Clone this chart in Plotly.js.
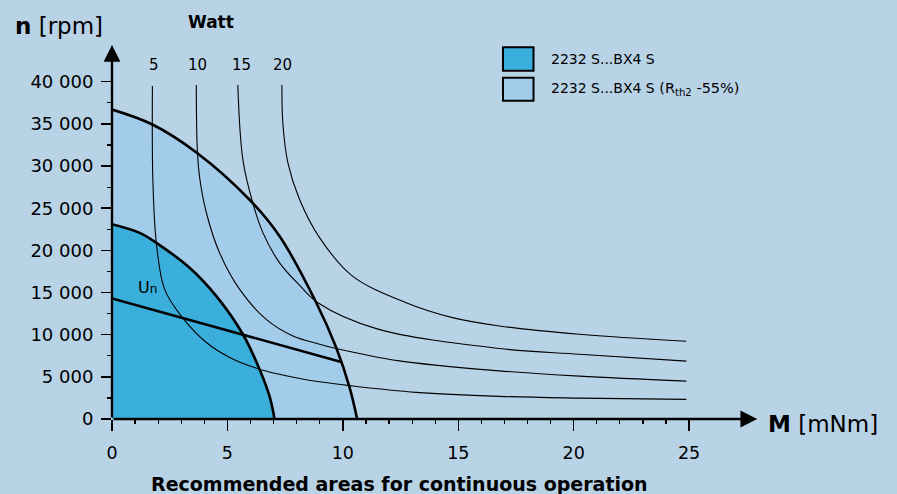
<!DOCTYPE html>
<html>
<head>
<meta charset="utf-8">
<script src="https://cdn.plot.ly/plotly-3.0.1.min.js"></script>
<style>html,body{margin:0;padding:0;background:#b8d3e6;}#chart{width:897px;height:494px;}</style>
</head>
<body>
<div id="chart"></div>
<script>
// Recommended-area boundaries (M in mNm, n in rpm)
const outerM = [0, 1.73, 3.70, 5.96, 7.26, 8.85, 9.71, 10.29, 10.62];
const outerN = [36700, 34950, 31520, 26000, 21670, 13790, 8470, 3750, 0];
const innerM = [0, 1.20, 1.92, 3.36, 4.52, 5.67, 6.39, 6.83, 7.04];
const innerN = [23100, 22070, 20890, 17930, 14570, 10050, 5910, 2645, 0];
// Un line
const unM = [0, 9.93];
const unN = [14300, 6770];
// Power curves (5, 10, 15, 20 W)
const w5M  = [1.75, 1.77, 1.92, 2.28, 3.00, 4.09, 5.10, 6.39, 8.13, 8.99, 10.29, 13.18, 16.78, 20.25, 24.88];
const w5N  = [39480, 28370, 20890, 15370, 12210, 9070, 7300, 5910, 4810, 4410, 3960, 3160, 2680, 2480, 2330];
const w10M = [3.65, 3.70, 3.81, 4.09, 4.66, 5.53, 6.68, 7.84, 8.99, 9.71, 12.45, 16.78, 20.25, 24.88];
const w10N = [39600, 31710, 28370, 24430, 19700, 15370, 11820, 9850, 8870, 8360, 6890, 5710, 5080, 4490];
const w15M = [5.45, 5.67, 6.10, 6.54, 7.26, 8.13, 8.92, 11.45, 16.78, 20.25, 24.88];
const w15N = [39600, 30730, 25610, 22070, 18520, 15840, 13790, 10720, 8360, 7680, 6860];
const w20M = [7.36, 7.40, 7.62, 8.13, 8.99, 10.42, 12.74, 14.75, 16.78, 20.25, 24.88];
const w20N = [39600, 35100, 30380, 26000, 21510, 16940, 13790, 12020, 11030, 10050, 9220];
const wattLabels = ['5', '10', '15', '20'];
const wattLabelM = [1.82, 3.71, 5.62, 7.38];
const wattLabelN = 41980;
// Ticks
const xTickVals = [0, 5, 10, 15, 20, 25];
const xTickText = ['0', '5', '10', '15', '20', '25'];
const xMinor = [1,2,3,4,6,7,8,9,11,12,13,14,16,17,18,19,21,22,23,24];
const yTickVals = [0, 5000, 10000, 15000, 20000, 25000, 30000, 35000, 40000];
const yTickText = ['0', '5 000', '10 000', '15 000', '20 000', '25 000', '30 000', '35 000', '40 000'];
const yMinor = [2500, 7500, 12500, 17500, 22500, 27500, 32500, 37500];
const seriesNames = ['2232 S...BX4 S', '2232 S...BX4 S <span style="font-size:14.5px">(R<sub>th2</sub> -55%)</span>'];

const BG = '#b8d3e6', DARK = '#3aafdc', LIGHT = '#a3cbea';
const FONT = 'DejaVu Sans, sans-serif';

function thin(m, n) {
  return {x: m, y: n, mode: 'lines', line: {color: '#000', width: 1.1, shape: 'spline', smoothing: 1.0}, hoverinfo: 'skip', showlegend: false};
}

const traces = [
  {x: outerM, y: outerN, mode: 'lines', fill: 'tozeroy', fillcolor: LIGHT, line: {color: '#000', width: 2.6, shape: 'spline', smoothing: 1.0}, showlegend: false},
  {x: innerM, y: innerN, mode: 'lines', fill: 'tozeroy', fillcolor: DARK, line: {color: '#000', width: 2.6, shape: 'spline', smoothing: 1.0}, showlegend: false},
  thin(w5M, w5N), thin(w10M, w10N), thin(w15M, w15N), thin(w20M, w20N),
  {x: unM, y: unN, mode: 'lines', line: {color: '#000', width: 2.6}, showlegend: false}
];

const annotations = [];
wattLabels.forEach((t, i) => annotations.push({x: wattLabelM[i], y: wattLabelN, xref: 'x', yref: 'y', text: t, showarrow: false, font: {family: FONT, size: 15, color: '#000'}}));
annotations.push({x: 1.03, y: 15540, xref: 'x', yref: 'y', xanchor: 'left', text: 'U<span style="font-size:12px">n</span>', showarrow: false, font: {family: FONT, size: 16, color: '#000'}});
// axis arrows
annotations.push({x: 0, y: 44350, ax: 0, ay: 0, xref: 'x', yref: 'y', axref: 'x', ayref: 'y', text: '', showarrow: true, arrowhead: 2, arrowsize: 1.4, arrowwidth: 2.4, arrowcolor: '#000'});
annotations.push({x: 27.95, y: 0, ax: 0, ay: 0, xref: 'x', yref: 'y', axref: 'x', ayref: 'y', text: '', showarrow: true, arrowhead: 2, arrowsize: 1.4, arrowwidth: 2.4, arrowcolor: '#000'});
// titles
annotations.push({x: -0.152, y: 1.037, xref: 'paper', yref: 'paper', xanchor: 'left', yanchor: 'middle', text: '<b>n</b> [rpm]', showarrow: false, font: {family: FONT, size: 23, color: '#000'}});
annotations.push({x: 0.152, y: 1.0475, xref: 'paper', yref: 'paper', xanchor: 'center', yanchor: 'middle', text: '<b>Watt</b>', showarrow: false, font: {family: FONT, size: 17, color: '#000'}});
annotations.push({x: 1.0046, y: -0.0132, xref: 'paper', yref: 'paper', xanchor: 'left', yanchor: 'middle', text: '<b>M</b> [mNm]', showarrow: false, font: {family: FONT, size: 23, color: '#000'}});
annotations.push({x: 0.442, y: -0.1715, xref: 'paper', yref: 'paper', xanchor: 'center', yanchor: 'middle', text: '<b>Recommended areas for continuous operation</b>', showarrow: false, font: {family: FONT, size: 19, color: '#000'}});
// legend texts
annotations.push({x: 0.671, y: 0.950, xref: 'paper', yref: 'paper', xanchor: 'left', yanchor: 'middle', text: seriesNames[0], showarrow: false, font: {family: FONT, size: 14, color: '#000'}});
annotations.push({x: 0.671, y: 0.8707, xref: 'paper', yref: 'paper', xanchor: 'left', yanchor: 'middle', text: seriesNames[1], showarrow: false, font: {family: FONT, size: 14, color: '#000'}});

const shapes = [
  {type: 'rect', xref: 'paper', yref: 'paper', x0: 0.6006, x1: 0.6475, y0: 0.919, y1: 0.9807, fillcolor: DARK, line: {color: '#000', width: 2}},
  {type: 'rect', xref: 'paper', yref: 'paper', x0: 0.6006, x1: 0.6475, y0: 0.8398, y1: 0.9005, fillcolor: LIGHT, line: {color: '#000', width: 2}}
];

const layout = {
  width: 897, height: 494,
  margin: {l: 112, r: 134, t: 40, b: 75},
  paper_bgcolor: BG, plot_bgcolor: BG,
  showlegend: false,
  font: {family: FONT, color: '#000'},
  xaxis: {range: [0, 28.2], showgrid: false, zeroline: false, showline: false,
    tickmode: 'array', tickvals: xTickVals, ticktext: xTickText, ticks: 'outside', ticklen: 11, tickwidth: 1.5, tickcolor: '#000',
    ticklabelstandoff: 7,
    tickfont: {family: FONT, size: 17.5, color: '#000'},
    minor: {tickmode: 'array', tickvals: xMinor, ticks: 'outside', ticklen: 4, tickwidth: 1.2, tickcolor: '#000'}},
  yaxis: {range: [0, 44945], showgrid: false, zeroline: false, showline: false,
    tickmode: 'array', tickvals: yTickVals, ticktext: yTickText, ticks: 'outside', ticklen: 10, tickwidth: 1.5, tickcolor: '#000',
    ticklabelstandoff: 4,
    tickfont: {family: FONT, size: 18, color: '#000'},
    minor: {tickmode: 'array', tickvals: yMinor, ticks: 'outside', ticklen: 4, tickwidth: 1.2, tickcolor: '#000'}},
  annotations: annotations,
  shapes: shapes
};

Plotly.newPlot('chart', traces, layout, {staticPlot: true, displayModeBar: false});
</script>
</body>
</html>
